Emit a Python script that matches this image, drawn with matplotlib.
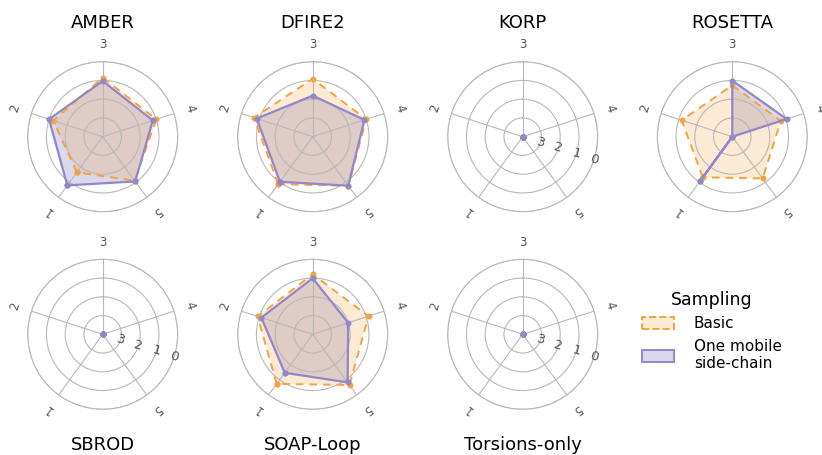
import numpy as np
import matplotlib
matplotlib.use('Agg')
import matplotlib.pyplot as plt
from matplotlib.patches import Patch
from matplotlib.colors import to_rgba

# scores per loop class (0 = best ring, 4 = centre)
classes = ['1', '2', '3', '4', '5']
methods = ['AMBER', 'DFIRE2', 'KORP', 'ROSETTA', 'SBROD', 'SOAP-Loop', 'Torsions-only']

basic = {
    'AMBER':         [1.65, 1.23, 0.85, 1.00, 1.10],
    'DFIRE2':        [0.87, 0.71, 0.91, 1.00, 0.77],
    'KORP':          [4, 4, 4, 4, 4],
    'ROSETTA':       [1.32, 1.16, 1.26, 1.28, 1.25],
    'SBROD':         [4, 4, 4, 4, 4],
    'SOAP-Loop':     [0.73, 0.91, 0.80, 0.87, 0.66],
    'Torsions-only': [4, 4, 4, 4, 4],
}
mobile = {
    'AMBER':         [0.79, 0.99, 1.03, 1.19, 1.05],
    'DFIRE2':        [1.03, 0.86, 1.81, 1.10, 0.77],
    'KORP':          [4, 4, 4, 4, 4],
    'ROSETTA':       [1.07, 4.00, 1.01, 0.95, 4.00],
    'SBROD':         [4, 4, 4, 4, 4],
    'SOAP-Loop':     [1.46, 1.12, 1.01, 2.01, 0.83],
    'Torsions-only': [4, 4, 4, 4, 4],
}
r_ticks = [0, 1, 2, 3]

ORANGE = '#f4a340'
PURPLE = '#9187c9'
GRID = '#b8b8b8'

W, H = 822, 455
fig = plt.figure(figsize=(W / 100, H / 100), dpi=100)

centers = {
    'AMBER': (102.7, 136.7), 'DFIRE2': (312.7, 136.7),
    'KORP': (522.7, 136.7), 'ROSETTA': (732.3, 136.7),
    'SBROD': (102.7, 334.3), 'SOAP-Loop': (312.7, 334.3),
    'Torsions-only': (522.7, 334.3),
}
R = 75.0
RMAX = 4.0

# class "3" at the top, going clockwise
theta_deg = np.array([(i - 2) * 72 for i in range(len(classes))]) % 360
theta = np.deg2rad(theta_deg)

for name in methods:
    cx, cy = centers[name]
    ax = fig.add_axes([(cx - R) / W, (H - cy - R) / H, 2 * R / W, 2 * R / H],
                      projection='polar')
    ax.set_theta_offset(np.pi / 2)
    ax.set_theta_direction(-1)
    ax.set_ylim(0, RMAX)
    ax.set_yticks([1, 2, 3, 4])
    ax.set_yticklabels([])
    ax.set_xticks(theta)
    ax.set_xticklabels([])
    ax.grid(True, color=GRID, lw=0.8)
    ax.spines['polar'].set_color(GRID)
    ax.spines['polar'].set_linewidth(0.8)

    th = np.append(theta, theta[0])
    rb = RMAX - np.array(basic[name] + basic[name][:1])
    rm = RMAX - np.array(mobile[name] + mobile[name][:1])

    ax.fill(th, rm, color=PURPLE, alpha=0.32, lw=0)
    ax.fill(th, rb, color=ORANGE, alpha=0.22, lw=0)
    ax.plot(th, rb, color=ORANGE, lw=1.4, ls=(0, (4, 3)), marker='o', ms=3.3)
    ax.plot(th, rm, color=PURPLE, lw=1.6, marker='o', ms=3.3)

    for t, lab in zip(theta_deg, classes):
        ax.text(np.deg2rad(t), 4.9, lab, rotation=-t, rotation_mode='anchor',
                ha='center', va='center', fontsize=8.5, color='#555555')

    # ring labels only where the polygons collapse to the centre
    if max(basic[name]) == RMAX and max(mobile[name]) == RMAX:
        for v in r_ticks:
            ax.text(np.deg2rad(107.5), RMAX - v, str(v), rotation=-15,
                    ha='center', va='center', fontsize=9.5, color='#555555')

    ty = cy - 114 if cy < 200 else cy + 111
    fig.text(cx / W, 1 - ty / H, name, ha='center', va='center', fontsize=13)

handles = [
    Patch(facecolor=to_rgba(ORANGE, 0.22), edgecolor=ORANGE, ls='--', lw=1.4),
    Patch(facecolor=to_rgba(PURPLE, 0.32), edgecolor=PURPLE, lw=1.4),
]
fig.legend(handles, ['Basic', 'One mobile\nside-chain'], title='Sampling',
           loc='upper left', bbox_to_anchor=(628 / W, 1 - 277 / H),
           frameon=False, fontsize=11, title_fontsize=12.5,
           handlelength=2.1, handleheight=0.9, handletextpad=1.3)

fig.savefig('out.png', dpi=100)
